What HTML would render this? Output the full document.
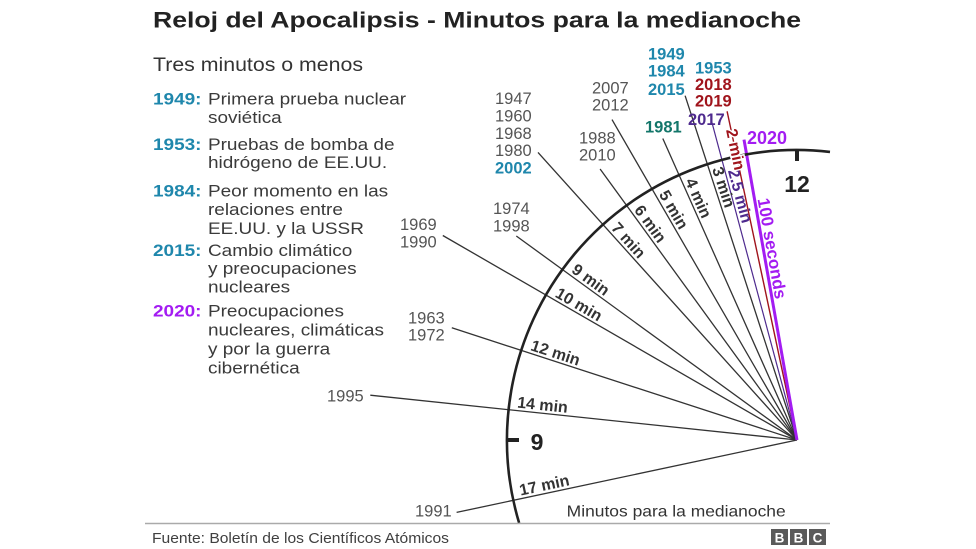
<!DOCTYPE html>
<html>
<head>
<meta charset="utf-8">
<style>
  html, body { margin:0; padding:0; background:#fff; }
  svg { display:block; }
  text { font-family: "Liberation Sans", Arial, sans-serif; }
</style>
</head>
<body>
<svg width="976" height="549" viewBox="0 0 976 549" xmlns="http://www.w3.org/2000/svg">
  <rect width="976" height="549" fill="#fff"/>

  <!-- Title -->
  <text x="153" y="27.5" font-size="22.5" font-weight="bold" fill="#222" textLength="648" lengthAdjust="spacingAndGlyphs">Reloj del Apocalipsis - Minutos para la medianoche</text>

  <!-- Subtitle -->
  <text x="153" y="71" font-size="19" fill="#333" textLength="210" lengthAdjust="spacingAndGlyphs">Tres minutos o menos</text>

  <!-- Legend -->
  <g transform="translate(153,0) scale(1.15,1) translate(-153,0)" font-size="16.5" fill="#3a3a3a">
    <text x="153" y="104.5" font-weight="bold" fill="#1f87ac">1949:</text>
    <text x="200.8" y="104.5">Primera prueba nuclear</text>
    <text x="200.8" y="123">soviética</text>

    <text x="153" y="150" font-weight="bold" fill="#1f87ac">1953:</text>
    <text x="200.8" y="150">Pruebas de bomba de</text>
    <text x="200.8" y="168">hidrógeno de EE.UU.</text>

    <text x="153" y="196.7" font-weight="bold" fill="#1f87ac">1984:</text>
    <text x="200.8" y="196.7">Peor momento en las</text>
    <text x="200.8" y="215">relaciones entre</text>
    <text x="200.8" y="234">EE.UU. y la USSR</text>

    <text x="153" y="256" font-weight="bold" fill="#1f87ac">2015:</text>
    <text x="200.8" y="256">Cambio climático</text>
    <text x="200.8" y="274">y preocupaciones</text>
    <text x="200.8" y="292.7">nucleares</text>

    <text x="153" y="316.7" font-weight="bold" fill="#a31cf2">2020:</text>
    <text x="200.8" y="316.7">Preocupaciones</text>
    <text x="200.8" y="335.7">nucleares, climáticas</text>
    <text x="200.8" y="354.3">y por la guerra</text>
    <text x="200.8" y="373.3">cibernética</text>
  </g>

  <!-- Radial lines -->
  <g stroke="#333" stroke-width="1.3" fill="none">
    <line x1="456.6" y1="512.4" x2="797" y2="440"/>
    <line x1="370.3" y1="395.2" x2="797" y2="440"/>
    <line x1="451.8" y1="327.8" x2="797" y2="440"/>
    <line x1="442.8" y1="235.5" x2="797" y2="440"/>
    <line x1="516.3" y1="236" x2="797" y2="440"/>
    <line x1="538" y1="152.4" x2="797" y2="440"/>
    <line x1="600.1" y1="169" x2="797" y2="440"/>
    <line x1="612" y1="119.6" x2="797" y2="440"/>
    <line x1="662.8" y1="138.5" x2="797" y2="440"/>
    <line x1="685.1" y1="95.7" x2="797" y2="440"/>
  </g>
  <line x1="711.6" y1="121.2" x2="797" y2="440" stroke="#4e2a8e" stroke-width="1.2"/>
  <line x1="727.1" y1="111.3" x2="797" y2="440" stroke="#a0141c" stroke-width="1.4"/>
  <line x1="744" y1="139.6" x2="797" y2="440" stroke="#a31cf2" stroke-width="3"/>

  <!-- Clock arc -->
  <path d="M 830 151.9 A 290 290 0 0 0 519.1 522.9" stroke="#222" stroke-width="2.6" fill="none"/>
  <!-- ticks -->
  <line x1="797" y1="149" x2="797" y2="161" stroke="#222" stroke-width="4"/>
  <line x1="506" y1="440" x2="519" y2="440" stroke="#222" stroke-width="4"/>
  <text x="797" y="192" font-size="23" font-weight="bold" fill="#222" text-anchor="middle">12</text>
  <text x="537" y="450" font-size="23" font-weight="bold" fill="#222" text-anchor="middle">9</text>

  <!-- Minute labels -->
  <g font-size="16" font-weight="bold" fill="#333">
    <text transform="translate(521.2,498.6) rotate(-12)" y="-3">17 min</text>
    <text transform="translate(516.5,410.5) rotate(6)" y="-3">14 min</text>
    <text transform="translate(528.8,352.9) rotate(18)" y="-3">12 min</text>
    <text transform="translate(552.8,299) rotate(30)" y="-3">10 min</text>
    <text transform="translate(568.9,274.2) rotate(36)" y="-3">9 min</text>
    <text transform="translate(608.3,230.4) rotate(48)" y="-3">7 min</text>
    <text transform="translate(631.2,211.9) rotate(54)" y="-3">6 min</text>
    <text transform="translate(656,195.8) rotate(60)" y="-3">5 min</text>
    <text transform="translate(682.3,182.4) rotate(66)" y="-3">4 min</text>
    <text transform="translate(709.2,169.9) rotate(72)" y="-3">3 min</text>
  </g>
  <text transform="translate(725,171.5) rotate(75)" y="-3" font-size="16" font-weight="bold" fill="#4e2a8e">2.5 min</text>
  <text transform="translate(730.9,129) rotate(78)" y="5" font-size="16" font-weight="bold" fill="#a0141c" stroke="#fff" stroke-width="3" paint-order="stroke">2 min</text>
  <text transform="translate(754.6,199.7) rotate(80)" y="-3" font-size="17" font-weight="bold" fill="#a31cf2">100 seconds</text>

  <!-- Year labels (gray) -->
  <g font-size="16.5" fill="#555">
    <text x="327" y="401.5">1995</text>
    <text x="415" y="516.5">1991</text>
    <text x="408" y="323.3">1963</text>
    <text x="408" y="340.7">1972</text>
    <text x="400" y="230">1969</text>
    <text x="400" y="247.3">1990</text>
    <text x="493" y="214">1974</text>
    <text x="493" y="231.5">1998</text>
    <text x="495" y="104">1947</text>
    <text x="495" y="121.7">1960</text>
    <text x="495" y="138.8">1968</text>
    <text x="495" y="156">1980</text>
    <text x="592" y="93.3">2007</text>
    <text x="592" y="110.5">2012</text>
    <text x="579" y="143.3">1988</text>
    <text x="579" y="160.7">2010</text>
  </g>
  <!-- Year labels (colored, bold) -->
  <g font-size="16.5" font-weight="bold">
    <text x="495" y="173.3" fill="#1f87ac">2002</text>
    <text x="648" y="59.3" fill="#1f87ac">1949</text>
    <text x="648" y="76.7" fill="#1f87ac">1984</text>
    <text x="648" y="95" fill="#1f87ac">2015</text>
    <text x="695" y="73.3" fill="#1f87ac">1953</text>
    <text x="695" y="90" fill="#a0141c">2018</text>
    <text x="695" y="106.7" fill="#a0141c">2019</text>
    <text x="688" y="125" fill="#4e2a8e">2017</text>
    <text x="645" y="132.7" fill="#13766a">1981</text>
    <text x="747" y="144" font-size="18" fill="#a31cf2">2020</text>
  </g>

  <!-- Axis caption -->
  <text x="566.7" y="516.7" font-size="16" fill="#333" textLength="219" lengthAdjust="spacingAndGlyphs">Minutos para la medianoche</text>

  <!-- Footer -->
  <line x1="145" y1="523.5" x2="830" y2="523.5" stroke="#aaa" stroke-width="1.6"/>
  <text x="152" y="543" font-size="14.5" fill="#404040" textLength="297" lengthAdjust="spacingAndGlyphs">Fuente: Boletín de los Científicos Atómicos</text>

  <!-- BBC logo -->
  <g>
    <rect x="771" y="529" width="17" height="16" fill="#5a5a5a"/>
    <rect x="790" y="529" width="17" height="16" fill="#5a5a5a"/>
    <rect x="809" y="529" width="17" height="16" fill="#5a5a5a"/>
    <g font-size="13.5" font-weight="bold" fill="#fff" text-anchor="middle">
      <text x="779.5" y="542.5">B</text>
      <text x="798.5" y="542.5">B</text>
      <text x="817.5" y="542.5">C</text>
    </g>
  </g>
</svg>
</body>
</html>
